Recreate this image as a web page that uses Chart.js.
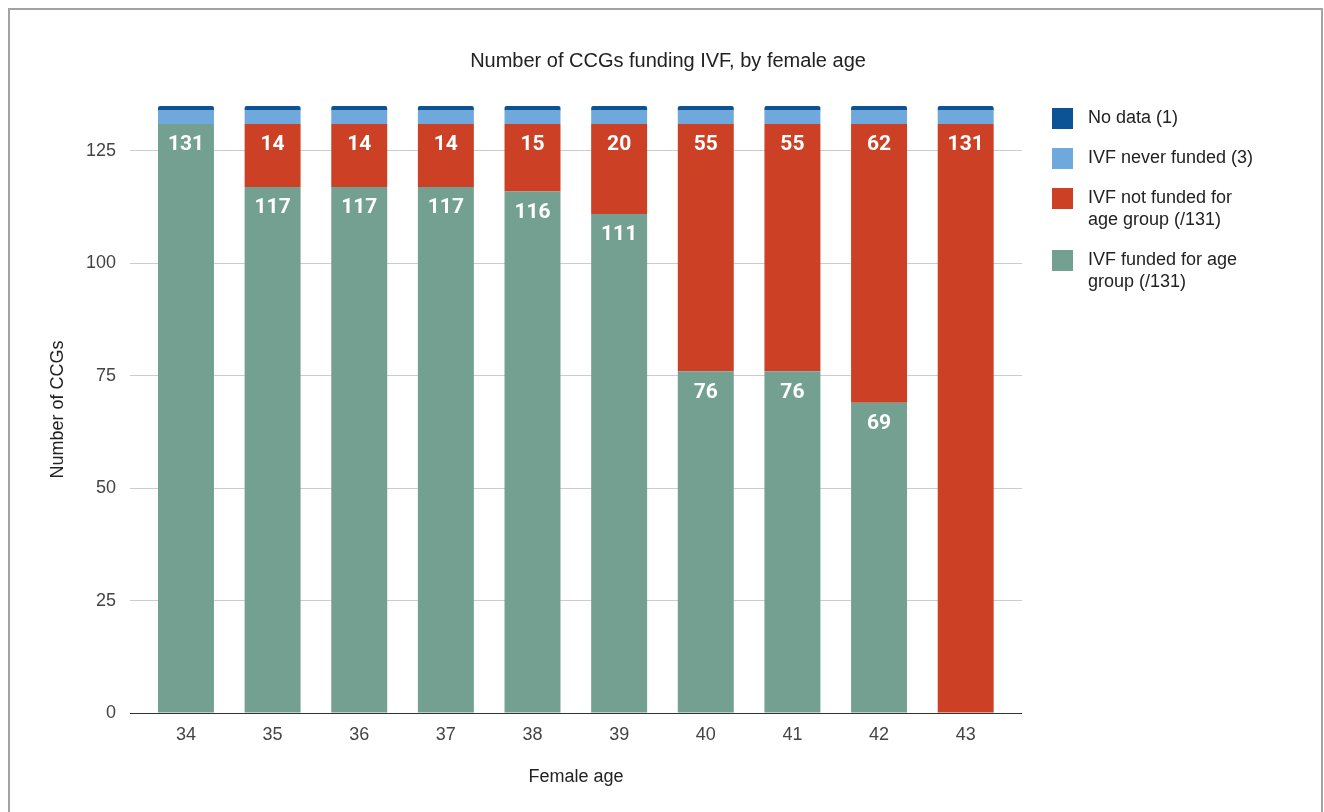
<!DOCTYPE html>
<html>
<head>
<meta charset="utf-8">
<title>Number of CCGs funding IVF, by female age</title>
<script src="https://cdn.jsdelivr.net/npm/chart.js@4.4.1/dist/chart.umd.min.js"></script>
<style>
  html, body { margin: 0; padding: 0; background: #fff; overflow: hidden; }
  #wrap { position: absolute; left: 0; top: 0; width: 1324px; height: 812px; }
  #frame {
    position: absolute; left: 8px; top: 8px; width: 1315px; height: 900px;
    box-sizing: border-box; border: 2px solid #a3a3a3; pointer-events: none;
  }
</style>
</head>
<body>
<div id="wrap"><canvas id="myChart"></canvas></div>
<div id="frame"></div>
<script>
const ages = [34, 35, 36, 37, 38, 39, 40, 41, 42, 43];
const funded = [131, 117, 117, 117, 116, 111, 76, 76, 69, 0];
const notFunded = [0, 14, 14, 14, 15, 20, 55, 55, 62, 131];
const neverFunded = [3, 3, 3, 3, 3, 3, 3, 3, 3, 3];
const noData = [1, 1, 1, 1, 1, 1, 1, 1, 1, 1];
const yTicks = [0, 25, 50, 75, 100, 125];

// legend text, bottom of the stack first
const seriesLabels = [
    ['IVF funded for age', 'group (/131)'],
    ['IVF not funded for', 'age group (/131)'],
    ['IVF never funded (3)'],
    ['No data (1)']
];
const seriesColors = ['#74a092', '#cc4125', '#6fa8dc', '#0b5394'];

const font = '"Liberation Sans", Arial, sans-serif';

function points(values) {
    return values.map((v, i) => ({ x: ages[i], y: v }));
}

// white numbers inside the two big segments
const valueLabels = {
    id: 'valueLabels',
    afterDatasetsDraw(chart) {
        const c = chart.ctx;
        c.save();
        c.fillStyle = '#ffffff';
        c.font = 'bold 21px Roboto, sans-serif';
        c.textAlign = 'center';
        c.textBaseline = 'middle';
        [0, 1].forEach(di => {
            const meta = chart.getDatasetMeta(di);
            meta.data.forEach((bar, i) => {
                const v = chart.data.datasets[di].data[i].y;
                if (!v) return;
                c.fillText(String(v), bar.x, bar.y + 21);
            });
        });
        c.restore();
    }
};

// legend on the right, top of the stack first
const sideLegend = {
    id: 'sideLegend',
    afterDraw(chart) {
        const c = chart.ctx;
        c.save();
        c.font = '18px ' + font;
        c.textBaseline = 'middle';
        c.textAlign = 'left';
        let y = 118;
        for (let k = seriesLabels.length - 1; k >= 0; k--) {
            c.fillStyle = seriesColors[k];
            c.fillRect(1052, y - 10, 21, 21);
            c.fillStyle = '#222';
            seriesLabels[k].forEach((line, j) => {
                c.fillText(line, 1088, y + j * 22);
            });
            y += 40 + 22 * (seriesLabels[k].length - 1);
        }
        c.restore();
    }
};

const ctx = document.getElementById('myChart').getContext('2d');

const chart = new Chart(ctx, {
    type: 'bar',
    data: {
        datasets: [
            { label: seriesLabels[0].join(' '), data: points(funded), backgroundColor: seriesColors[0] },
            { label: seriesLabels[1].join(' '), data: points(notFunded), backgroundColor: seriesColors[1] },
            { label: seriesLabels[2].join(' '), data: points(neverFunded), backgroundColor: seriesColors[2] },
            {
                label: seriesLabels[3].join(' '), data: points(noData), backgroundColor: seriesColors[3],
                borderRadius: { topLeft: 2, topRight: 2 }, borderSkipped: 'bottom'
            }
        ]
    },
    plugins: [valueLabels, sideLegend],
    options: {
        responsive: true,
        maintainAspectRatio: false,
        animation: false,
        layout: { padding: { left: 12, right: 0, top: 0, bottom: 0 } },
        datasets: {
            bar: { barPercentage: 0.646, categoryPercentage: 1 }
        },
        plugins: {
            legend: { display: false },
            tooltip: { enabled: false },
            title: {
                display: true,
                text: 'Number of CCGs funding IVF, by female age',
                color: '#222',
                font: { family: font, size: 20, weight: 'normal' },
                padding: { top: 49, bottom: 33 }
            }
        },
        scales: {
            x: {
                type: 'linear',
                stacked: true,
                offset: false,
                min: 33.354,
                max: 43.65,
                grid: { display: false, drawTicks: false },
                border: { display: false },
                ticks: {
                    stepSize: 1,
                    includeBounds: false,
                    padding: 11,
                    color: '#444',
                    font: { family: font, size: 18 },
                    callback: v => ages.includes(v) ? String(v) : ''
                },
                title: {
                    display: true,
                    text: 'Female age',
                    color: '#222',
                    font: { family: font, size: 18 },
                    padding: { top: 0, bottom: 24 }
                },
                afterFit: s => { s.height = 99; }
            },
            y: {
                stacked: true,
                min: 0,
                max: 135,
                grid: {
                    drawTicks: false,
                    color: c => c.tick && c.tick.value === 0 ? '#333' : '#cccccc'
                },
                border: { display: false },
                afterBuildTicks: s => { s.ticks = yTicks.map(v => ({ value: v })); },
                ticks: {
                    padding: 14,
                    color: '#444',
                    font: { family: font, size: 18 }
                },
                title: {
                    display: true,
                    text: 'Number of CCGs',
                    color: '#222',
                    font: { family: font, size: 18 },
                    padding: { top: 35, bottom: 0 }
                },
                afterFit: s => { s.width = 118; }
            },
            // empty axis that only keeps room for the legend
            side: {
                type: 'linear',
                position: 'right',
                display: true,
                min: 0,
                max: 1,
                grid: { display: false },
                border: { display: false },
                ticks: { display: false },
                afterFit: s => { s.width = 302; }
            }
        }
    }
});
</script>
</body>
</html>
